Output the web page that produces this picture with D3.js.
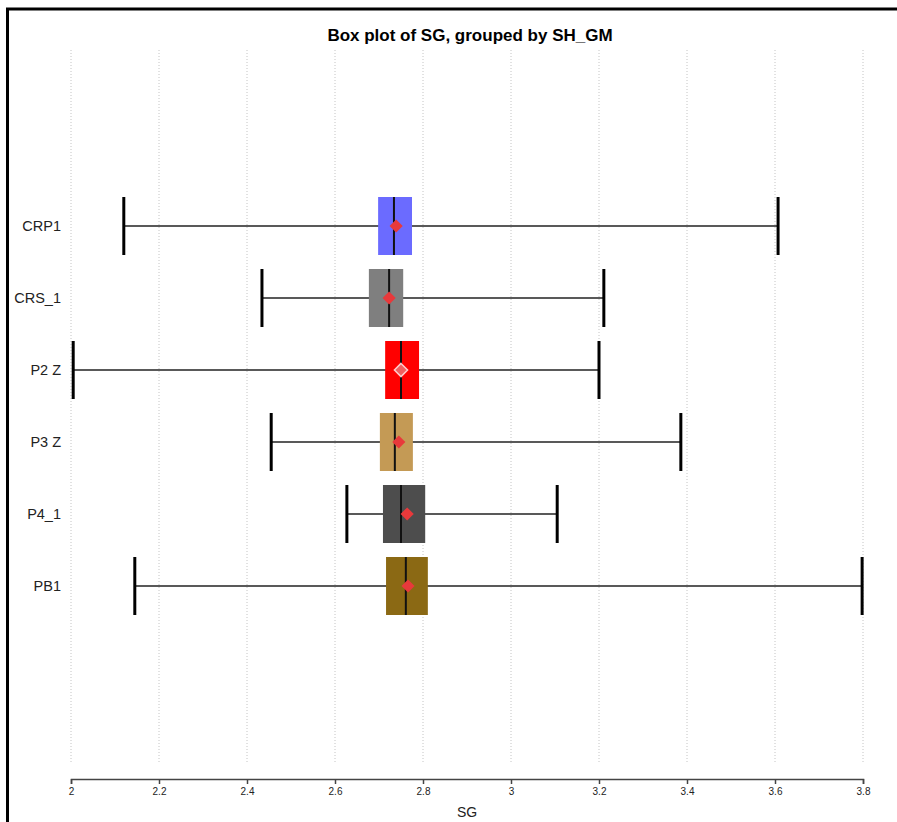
<!DOCTYPE html>
<html>
<head>
<meta charset="utf-8">
<script src="https://cdn.jsdelivr.net/npm/d3@7"></script>
<style>
  html, body { margin: 0; padding: 0; background: #fff; }
  svg { display: block; font-family: "Liberation Sans", Arial, sans-serif; }
</style>
</head>
<body>
<svg id="chart" width="897" height="822"></svg>
<script>
// ---- data ----
const categories = ["CRP1", "CRS_1", "P2 Z", "P3 Z", "P4_1", "PB1"];
const whiskerLow  = [2.120, 2.434, 2.005, 2.455, 2.627, 2.145];
const q1          = [2.698, 2.677, 2.714, 2.702, 2.709, 2.716];
const medians     = [2.734, 2.723, 2.750, 2.736, 2.750, 2.761];
const q3          = [2.775, 2.755, 2.791, 2.777, 2.805, 2.811];
const whiskerHigh = [3.607, 3.211, 3.200, 3.386, 3.105, 3.798];
const means       = [2.739, 2.723, 2.750, 2.745, 2.764, 2.766];
const boxColors   = ["#6b6bff", "#7f7f7f", "#ff0000", "#c49a55", "#4d4d4d", "#8b6914"];
const xTicks      = [2, 2.2, 2.4, 2.6, 2.8, 3, 3.2, 3.4, 3.6, 3.8];
const titleText   = "Box plot of SG, grouped by SH_GM";
const xLabel      = "SG";

const rows = categories.map((c, i) => ({
  cat: c, lo: whiskerLow[i], q1: q1[i], med: medians[i], q3: q3[i],
  hi: whiskerHigh[i], mean: means[i], color: boxColors[i]
}));

const svg = d3.select("#chart");

// frame
svg.append("rect").attr("x", 7.5).attr("y", 9).attr("width", 897).attr("height", 830)
  .attr("fill", "none").attr("stroke", "#000").attr("stroke-width", 3);

const x = d3.scaleLinear().domain([2, 3.8]).range([71, 863]);
const y = d3.scalePoint().domain(categories).range([226, 586]);
const boxH = 58;

// grid
svg.append("g").selectAll("line").data(xTicks).join("line")
  .attr("x1", d => x(d)).attr("x2", d => x(d))
  .attr("y1", 50).attr("y2", 763)
  .attr("stroke", "#c4c4c4").attr("stroke-width", 1)
  .attr("stroke-dasharray", "1,2");

// title
svg.append("text").attr("x", 470).attr("y", 41).attr("text-anchor", "middle")
  .attr("font-size", 17).attr("font-weight", "bold").attr("fill", "#000")
  .text(titleText);

// x axis
const xAxis = d3.axisBottom(x).tickValues(xTicks).tickSize(5).tickPadding(4)
  .tickFormat(d3.format("~g"));
const gx = svg.append("g").attr("transform", "translate(0,779)").call(xAxis);
gx.select(".domain").attr("stroke", "#444").attr("stroke-width", 1.5);
gx.selectAll(".tick line").attr("stroke", "#444").attr("stroke-width", 1.5);
gx.selectAll(".tick text").attr("font-size", 10).attr("fill", "#222")
  .attr("font-family", "Liberation Sans, Arial, sans-serif");

svg.append("text").attr("x", 467).attr("y", 817).attr("text-anchor", "middle")
  .attr("font-size", 14).attr("fill", "#222").text(xLabel);

// y labels
svg.append("g").selectAll("text").data(categories).join("text")
  .attr("x", 61).attr("y", d => y(d)).attr("dy", "0.35em")
  .attr("text-anchor", "end").attr("font-size", 14.5).attr("fill", "#222")
  .text(d => d);

const g = svg.append("g").selectAll("g").data(rows).join("g");

// whisker lines
g.append("line").attr("x1", d => x(d.lo)).attr("x2", d => x(d.hi))
  .attr("y1", d => y(d.cat)).attr("y2", d => y(d.cat))
  .attr("stroke", "#222").attr("stroke-width", 1.5);

// caps
g.append("line").attr("x1", d => x(d.lo)).attr("x2", d => x(d.lo))
  .attr("y1", d => y(d.cat) - boxH / 2).attr("y2", d => y(d.cat) + boxH / 2)
  .attr("stroke", "#000").attr("stroke-width", 3);
g.append("line").attr("x1", d => x(d.hi)).attr("x2", d => x(d.hi))
  .attr("y1", d => y(d.cat) - boxH / 2).attr("y2", d => y(d.cat) + boxH / 2)
  .attr("stroke", "#000").attr("stroke-width", 3);

// boxes
g.append("rect").attr("x", d => x(d.q1)).attr("width", d => x(d.q3) - x(d.q1))
  .attr("y", d => y(d.cat) - boxH / 2).attr("height", boxH)
  .attr("fill", d => d.color);

// medians
g.append("line").attr("x1", d => x(d.med)).attr("x2", d => x(d.med))
  .attr("y1", d => y(d.cat) - boxH / 2).attr("y2", d => y(d.cat) + boxH / 2)
  .attr("stroke", "#111").attr("stroke-width", 2);

// means
const sym = d3.symbol().type(d3.symbolDiamond2).size(110);
g.append("path").attr("d", sym)
  .attr("transform", d => `translate(${x(d.mean)},${y(d.cat)})`)
  .attr("fill", d => d.color === "#ff0000" ? "#f06060" : "#e8393b")
  .attr("stroke", d => d.color === "#ff0000" ? "#ffcccc" : "none")
  .attr("stroke-width", 1.5);
</script>
</body>
</html>
